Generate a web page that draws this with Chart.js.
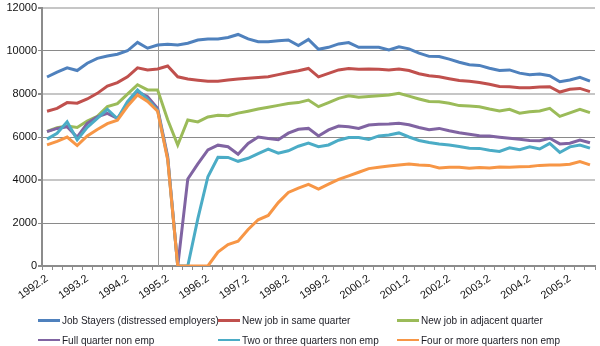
<!DOCTYPE html>
<html>
<head>
<meta charset="utf-8">
<script src="https://cdn.jsdelivr.net/npm/chart.js"></script>
<style>
  body { margin: 0; background: #fff; }
  #wrap { position: relative; width: 600px; height: 346px; }
  .item { position: absolute; display: flex; align-items: center; height: 14px;
          font: 10px "Liberation Sans", Arial, sans-serif; color: #1c1c24; white-space: nowrap; }
  .item span.swatch { display: inline-block; width: 22px; margin-right: 2px; }
</style>
</head>
<body>
<div id="wrap">
  <canvas id="linechart" width="600" height="346"></canvas>
  <div id="legend"></div>
</div>
<script>
const quarters = [
  '1992.2','1992.3','1992.4','1993.1','1993.2','1993.3','1993.4','1994.1','1994.2','1994.3','1994.4',
  '1995.1','1995.2','1995.3','1995.4','1996.1','1996.2','1996.3','1996.4','1997.1','1997.2','1997.3',
  '1997.4','1998.1','1998.2','1998.3','1998.4','1999.1','1999.2','1999.3','1999.4','2000.1','2000.2',
  '2000.3','2000.4','2001.1','2001.2','2001.3','2001.4','2002.1','2002.2','2002.3','2002.4','2003.1',
  '2003.2','2003.3','2003.4','2004.1','2004.2','2004.3','2004.4','2005.1','2005.2','2005.3','2005.4'
];
const yTicks = [0, 2000, 4000, 6000, 8000, 10000, 12000];
const markerQuarter = '1995.1';

const jobStayers = [8790, 9020, 9220, 9090, 9430, 9660, 9770, 9850, 10010, 10400,
  10130, 10280, 10310, 10280, 10360, 10510, 10560, 10560, 10630, 10770,
  10560, 10430, 10430, 10480, 10510, 10250, 10540, 10080, 10170, 10330,
  10390, 10170, 10170, 10170, 10050, 10200, 10100, 9900, 9750, 9740,
  9620, 9480, 9360, 9330, 9200, 9090, 9120, 8970, 8900, 8930,
  8850, 8570, 8650, 8780, 8600];
const sameQuarter = [7200, 7330, 7600, 7570, 7770, 8030, 8370, 8530, 8800, 9220,
  9120, 9160, 9300, 8800, 8700, 8640, 8590, 8590, 8650, 8700,
  8730, 8770, 8800, 8900, 9000, 9080, 9190, 8800, 8960, 9120,
  9190, 9150, 9160, 9150, 9120, 9160, 9090, 8940, 8850, 8800,
  8710, 8630, 8590, 8530, 8450, 8350, 8340, 8290, 8290, 8320,
  8340, 8090, 8220, 8260, 8110];
const adjacentQuarter = [6260, 6430, 6510, 6440, 6740, 6960, 7410, 7550, 7990, 8430,
  8190, 8190, 6800, 5630, 6790, 6700, 6930, 7010, 6990, 7110,
  7200, 7300, 7380, 7470, 7560, 7600, 7720, 7410, 7600, 7800,
  7920, 7850, 7880, 7920, 7950, 8030, 7900, 7770, 7650, 7640,
  7570, 7460, 7440, 7410, 7300, 7210, 7290, 7110, 7170, 7210,
  7330, 6960, 7120, 7290, 7130];
const fullQuarter = [6250, 6400, 6480, 5990, 6630, 6940, 7100, 6870, 7490, 8110,
  7870, 7330, 5100, 0, 4050, 4750, 5400, 5620, 5550, 5200,
  5700, 6000, 5930, 5870, 6180, 6360, 6400, 6050, 6330, 6510,
  6480, 6400, 6560, 6590, 6600, 6640, 6570, 6440, 6340, 6400,
  6290, 6200, 6130, 6060, 6050, 5990, 5940, 5890, 5840, 5830,
  5940, 5680, 5710, 5860, 5730];
const twoThreeQuarters = [5900, 6170, 6710, 5870, 6450, 6870, 7290, 6850, 7640, 8190,
  7750, 7250, 5000, 0, 0, 2200, 4150, 5060, 5050, 4870,
  5010, 5230, 5440, 5250, 5360, 5570, 5720, 5550, 5630, 5850,
  5980, 5980, 5890, 6050, 6090, 6190, 6000, 5840, 5740, 5670,
  5630, 5560, 5480, 5470, 5380, 5330, 5500, 5410, 5540, 5440,
  5700, 5280, 5540, 5630, 5480];
const fourPlusQuarters = [5630, 5800, 6000, 5600, 6050, 6350, 6620, 6780, 7430, 7950,
  7650, 7200, 4950, 0, 0, 0, 0, 650, 1000, 1150,
  1700, 2150, 2350, 2950, 3420, 3620, 3800, 3580, 3810, 4030,
  4190, 4360, 4530, 4590, 4650, 4700, 4740, 4700, 4680, 4560,
  4590, 4590, 4550, 4580, 4560, 4600, 4590, 4620, 4630, 4680,
  4700, 4700, 4730, 4860, 4700];

const seriesNames = ['Job Stayers (distressed employers)', 'New job in same quarter', 'New job in adjacent quarter',
  'Full quarter non emp', 'Two or three quarters non emp', 'Four or more quarters non emp'];
const seriesValues = [jobStayers, sameQuarter, adjacentQuarter, fullQuarter, twoThreeQuarters, fourPlusQuarters];
const seriesColors = ['#4F81BD', '#C0504D', '#9BBB59', '#8064A2', '#4BACC6', '#F79646'];

// grey vertical line marking the distress quarter
const markerLine = {
  id: 'markerLine',
  beforeDatasetsDraw(chart) {
    const x = chart.scales.x.getPixelForValue(quarters.indexOf(markerQuarter));
    const c = chart.ctx;
    c.save();
    c.strokeStyle = '#9a9a9a';
    c.lineWidth = 1;
    c.beginPath();
    c.moveTo(Math.round(x) + 0.5, chart.chartArea.top);
    c.lineTo(Math.round(x) + 0.5, chart.chartArea.bottom);
    c.stroke();
    c.restore();
  }
};

const ctx = document.getElementById('linechart');

new Chart(ctx, {
  type: 'line',
  data: {
    labels: quarters,
    datasets: seriesNames.map((name, i) => ({
      label: name,
      data: seriesValues[i],
      borderColor: seriesColors[i],
      backgroundColor: seriesColors[i],
      borderWidth: 3,
      pointRadius: 0,
      tension: 0,
      order: seriesNames.length - i
    }))
  },
  options: {
    responsive: false,
    animation: false,
    devicePixelRatio: 1,
    layout: { padding: { left: 0, right: 5, top: 8, bottom: 46 } },
    plugins: { legend: { display: false }, tooltip: { enabled: false } },
    scales: {
      x: {
        offset: true,
        grid: { offset: true, drawOnChartArea: false, tickLength: 4, color: '#8c8c8c' },
        border: { color: '#8c8c8c', width: 2 },
        ticks: {
          autoSkip: false, minRotation: 35, maxRotation: 35, padding: 2, color: '#111',
          font: { family: 'Liberation Sans', size: 11 },
          callback: (v, i) => (i % 4 === 0 ? quarters[i] : '')
        },
        afterFit: s => { s.height = 34; }
      },
      y: {
        min: yTicks[0],
        max: yTicks[yTicks.length - 1],
        afterBuildTicks: s => { s.ticks = yTicks.map(v => ({ value: v })); },
        ticks: {
          padding: 1, color: '#111', font: { family: 'Liberation Sans', size: 11 },
          callback: v => String(v)
        },
        grid: {
          tickLength: 4,
          tickColor: '#8c8c8c',
          color: c => (c.tick && c.tick.value % 4000 === 2000 ? '#8a8a8a' : '#c6c6c6'),
          lineWidth: c => (c.tick && c.tick.value % 4000 === 2000 ? 1 : 2)
        },
        border: { color: '#8c8c8c', width: 2 },
        afterFit: s => { s.width = 42; }
      }
    }
  },
  plugins: [markerLine]
});

// legend laid out as a 3-column grid like the original
const legendCols = [38, 218, 397];
const legendRows = [313, 333];
const legend = document.getElementById('legend');
seriesNames.forEach((name, i) => {
  const row = Math.floor(i / 3);
  const item = document.createElement('div');
  item.className = 'item';
  item.style.left = legendCols[i % 3] + 'px';
  item.style.top = legendRows[row] + 'px';
  const sw = document.createElement('span');
  sw.className = 'swatch';
  sw.style.height = (row === 0 ? 3 : 2) + 'px';
  sw.style.background = seriesColors[i];
  item.appendChild(sw);
  item.appendChild(document.createTextNode(name));
  legend.appendChild(item);
});
</script>
</body>
</html>
